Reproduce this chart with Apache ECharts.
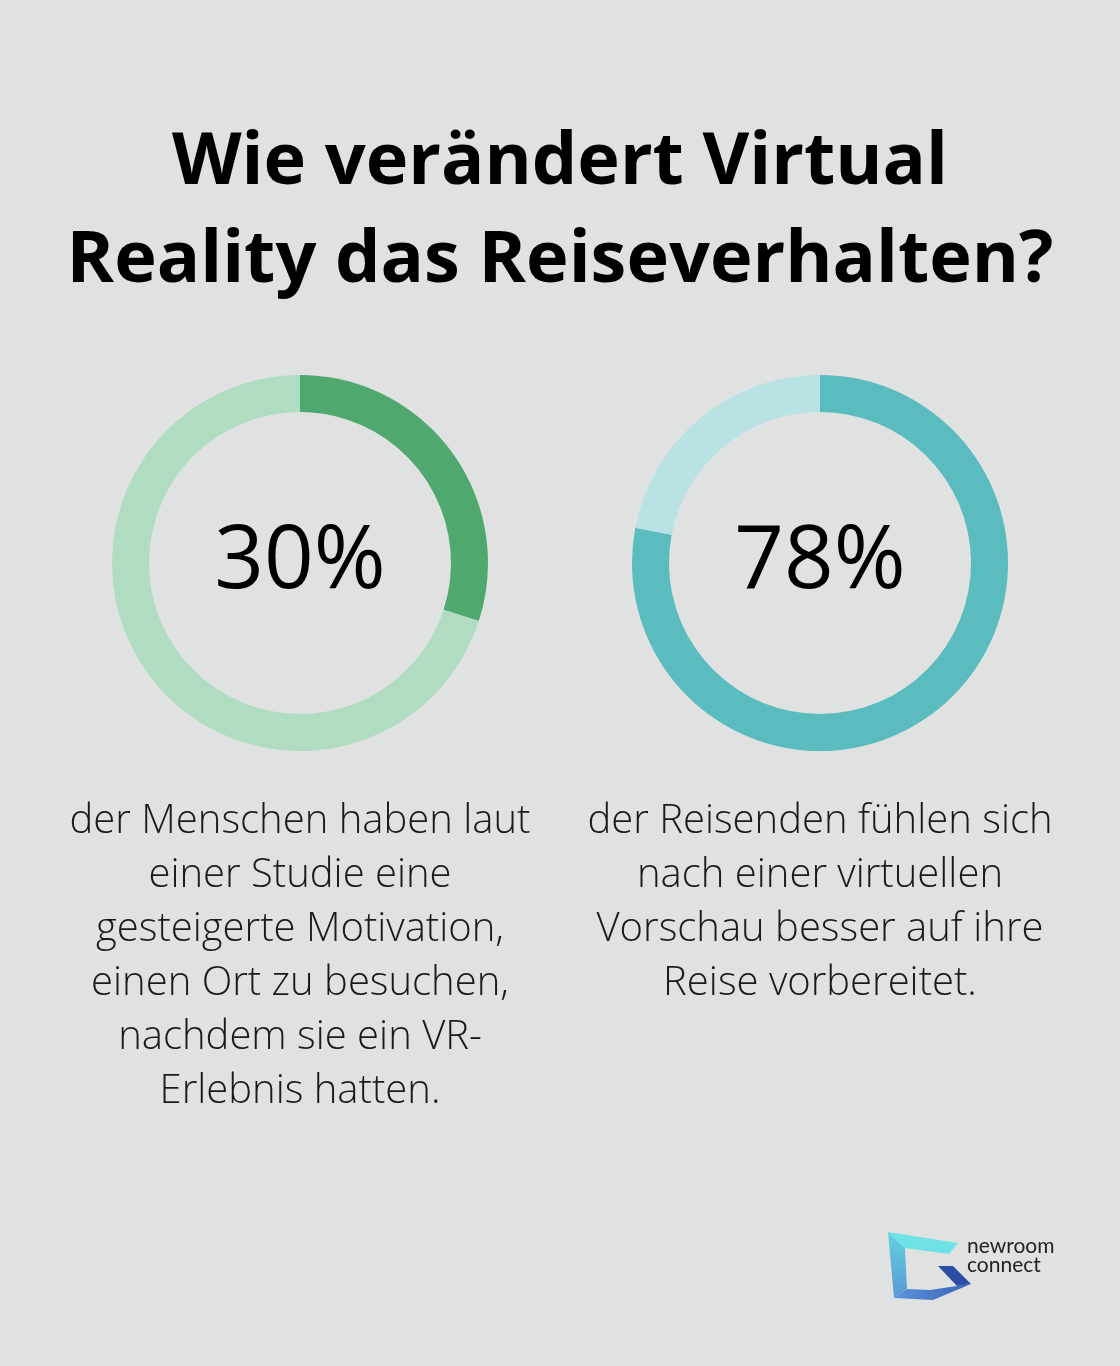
<!DOCTYPE html>
<html><head><meta charset="utf-8">
<script src="https://cdn.jsdelivr.net/npm/echarts@6/dist/echarts.min.js"></script>
<style>html,body{margin:0;padding:0;background:#e0e2e1;}#c{width:1120px;height:1366px;}</style>
</head><body><div id="c"></div>
<script>
const titleLines = ["Wie verändert Virtual", "Reality das Reiseverhalten?"];
const values = [30, 78];
const valueLabels = ["30%", "78%"];
const captions = [
  ["der Menschen haben laut", "einer Studie eine", "gesteigerte Motivation,", "einen Ort zu besuchen,", "nachdem sie ein VR-", "Erlebnis hatten."],
  ["der Reisenden fühlen sich", "nach einer virtuellen", "Vorschau besser auf ihre", "Reise vorbereitet."]
];
const mainColors = ["#4fa96f", "#5bbcbf"];
const restColors = ["#b0dcc2", "#b8e2e4"];
const centersX = [300, 820];

const chart = echarts.init(document.getElementById('c'), null, {renderer: 'canvas'});
const series = values.map((v, i) => ({
  type: 'pie',
  center: [centersX[i], 563],
  radius: [151, 188],
  startAngle: 90,
  clockwise: true,
  silent: true,
  avoidLabelOverlap: false,
  labelLine: {show: false},
  data: [
    {value: v, name: valueLabels[i], itemStyle: {color: mainColors[i]},
     label: {show: true, position: 'center', formatter: valueLabels[i], fontFamily: 'Open Sans', fontSize: 87, color: '#000', fontWeight: 400}},
    {value: 100 - v, name: 'rest', itemStyle: {color: restColors[i]}, label: {show: false}}
  ]
}));

const graphics = [];
titleLines.forEach((t, k) => {
  graphics.push({type: 'text', left: 'center', top: 127 + k * 98,
    style: {text: t, font: 'bold 72px "Open Sans"', fill: '#000'}});
});
captions.forEach((lines, i) => {
  graphics.push({type: 'text', x: centersX[i], y: 795,
    style: {text: lines.join('\n'), font: '300 40px "Open Sans"', fill: '#1a1a1a', align: 'center', lineHeight: 54, verticalAlign: 'top'}});
});
// logo
graphics.push(
  {type: 'polygon', shape: {points: [[888,1232],[958,1243],[949,1254],[905,1248]]}, style: {fill: '#6fe2e8'}},
  {type: 'polygon', shape: {points: [[888,1232],[905,1248],[907,1289],[894,1298]]}, style: {fill: new echarts.graphic.LinearGradient(0,0,0,1,[{offset:0,color:'#62d4e0'},{offset:1,color:'#5a98d4'}])}},
  {type: 'polygon', shape: {points: [[907,1289],[930,1290],[957,1286],[971,1284],[933,1300],[894,1298]]}, style: {fill: new echarts.graphic.LinearGradient(0,0,1,0,[{offset:0,color:'#5b93d8'},{offset:1,color:'#3a62bb'}])}},
  {type: 'polygon', shape: {points: [[938,1266],[953,1266],[971,1284],[957,1286]]}, style: {fill: '#2e4ea6'}},
  {type: 'text', x: 967, y: 1237, style: {text: 'newroom\nconnect', font: '400 21px "Lato"', fill: '#222', lineHeight: 19}}
);

chart.setOption({
  backgroundColor: '#e0e2e1',
  animation: false,
  series: series,
  graphic: graphics
});
</script></body></html>
